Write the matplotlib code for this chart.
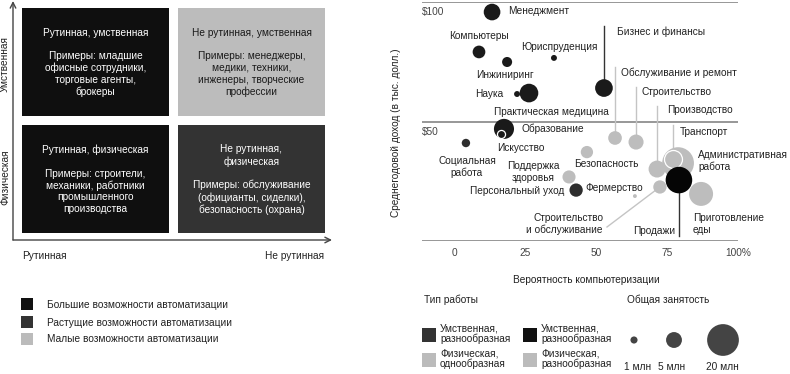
import matplotlib
matplotlib.use("Agg")
import matplotlib.pyplot as plt
from matplotlib.patches import Rectangle
import numpy as np

plt.rcParams['font.family'] = ['Liberation Sans', 'DejaVu Sans']
FS = 7.3

# ---------------- data ----------------
occupations = ["Административная работа", "Транспорт", "Продажи", "Приготовление еды",
               "Образование", "Искусство", "Практическая медицина", "Наука",
               "Бизнес и финансы", "Менеджмент", "Производство", "Строительство",
               "Обслуживание и ремонт", "Строительство и обслуживание", "Персональный уход",
               "Поддержка здоровья", "Компьютеры", "Безопасность", "Инжиниринг",
               "Социальная работа", "Юриспруденция", "Фермерство"]
prob = [78.9, 77.1, 79.2, 87.0, 17.6, 16.5, 26.4, 22.2, 52.8, 13.4, 71.5, 64.1,
        56.7, 72.5, 43.0, 40.5, 8.8, 46.8, 18.7, 4.2, 35.2, 63.7]
income = [32.6, 34.3, 25.5, 19.7, 46.9, 44.8, 61.9, 61.5, 64.0, 95.8, 30.1, 41.4,
          43.1, 22.6, 21.3, 26.8, 79.1, 37.2, 74.9, 41.0, 76.6, 18.8]
employment = [20, 6.4, 14, 11.4, 8.0, 1.3, 6.9, 0.7, 6.2, 5.5, 5.7, 4.5,
              3.7, 3.5, 3.5, 3.4, 3.2, 3.0, 2.0, 1.4, 0.7, 0.3]
job_type = ["phys", "phys", "black", "phys", "cog", "cog", "cog", "cog", "cog", "cog",
            "phys", "phys", "phys", "phys", "dark", "phys", "cog", "phys", "cog",
            "dark", "cog", "phys"]
ringed = ["Транспорт", "Искусство"]

x_ticks = [0, 25, 50, 75, 100]
x_tick_labels = ["0", "25", "50", "75", "100%"]
y_ticks = [50, 100]
y_tick_labels = ["$50", "$100"]
size_legend_values = [1, 5, 20]
size_legend_labels = ["1 млн", "5 млн", "20 млн"]

quadrant_texts = ["Рутинная, умственная\n\nПримеры: младшие\nофисные сотрудники,\nторговые агенты,\nброкеры",
                  "Не рутинная, умственная\n\nПримеры: менеджеры,\nмедики, техники,\nинженеры, творческие\nпрофессии",
                  "Рутинная, физическая\n\nПримеры: строители,\nмеханики, работники\nпромышленного\nпроизводства",
                  "Не рутинная,\nфизическая\n\nПримеры: обслуживание\n(официанты, сиделки),\nбезопасность (охрана)"]
auto_labels = ["Большие возможности автоматизации", "Растущие возможности автоматизации",
               "Малые возможности автоматизации"]

colors = {"cog": "#1a1a1a", "black": "#050505", "dark": "#2e2e2e", "phys": "#bdbdbd"}

# ---------------- figure ----------------
W, H = 790, 374
fig = plt.figure(figsize=(W / 100, H / 100), dpi=100)
bg = fig.add_axes([0, 0, 1, 1])
bg.set_xlim(0, W)
bg.set_ylim(H, 0)
bg.axis('off')

# ---- left diagram ----
box_colors = ["#0f0f0f", "#bcbcbc", "#0f0f0f", "#333333"]
text_colors = ["white", "#1a1a1a", "white", "white"]
boxes = [(22, 8), (178, 8), (22, 125), (178, 125)]
for (bx, by), fc, tc, txt in zip(boxes, box_colors, text_colors, quadrant_texts):
    bg.add_patch(Rectangle((bx, by), 147, 108, facecolor=fc, edgecolor='none'))
    bg.text(bx + 73.5, by + 54.5, txt, ha='center', va='center', color=tc,
            fontsize=FS, linespacing=1.2)

bg.annotate("", xy=(13, 1), xytext=(13, 240),
            arrowprops=dict(arrowstyle='->', color='#444444', lw=1, shrinkA=0, shrinkB=0))
bg.annotate("", xy=(332, 240), xytext=(13, 240),
            arrowprops=dict(arrowstyle='->', color='#444444', lw=1, shrinkA=0, shrinkB=0))
bg.text(5, 64, "Умственная", rotation=90, ha='center', va='center', fontsize=FS, color='#222')
bg.text(5, 177, "Физическая", rotation=90, ha='center', va='center', fontsize=FS, color='#222')
bg.text(22, 256, "Рутинная", ha='left', va='center', fontsize=FS, color='#222')
bg.text(324, 256, "Не рутинная", ha='right', va='center', fontsize=FS, color='#222')

for i, (lab, c) in enumerate(zip(auto_labels, ["#111111", "#333333", "#bbbbbb"])):
    yy = [298, 316, 333][i]
    bg.add_patch(Rectangle((21, yy), 12, 12, facecolor=c, edgecolor='none'))
    bg.text(47, yy + 6.5, lab, ha='left', va='center', fontsize=FS, color='#222')

# ---- scatter ----
PX0, PX100 = 454, 738
ppx = (PX100 - PX0) / 100
YB, YT = 241, 2
ppy = (YB - YT) / 100
xl = -(PX0 - 422) / ppx
ax = fig.add_axes([422 / W, (H - YB) / H, (738 - 422) / W, (YB - YT) / H])
ax.set_xlim(xl, 100)
ax.set_ylim(0, 100)
ax.axis('off')

def d2p(x, y):
    return PX0 + x * ppx, YB - y * ppy

def py2d(p):
    return (YB - p) / ppy

def px2d(p):
    return (p - PX0) / ppx

for yv in [0] + y_ticks:
    ax.axhline(yv, color='#7a7a7a', lw=1.1, zorder=1)
for yv, lab in zip(y_ticks, y_tick_labels):
    ax.text(xl, yv - 4.2, lab, ha='left', va='center', fontsize=FS, color='#444', clip_on=False)
for xv, lab in zip(x_ticks, x_tick_labels):
    ax.text(xv, -5.0, lab, ha='center', va='center', fontsize=FS, color='#444', clip_on=False)

SCALE = (1.44 * 3.55) ** 2
idx = {n: i for i, n in enumerate(occupations)}

# leader lines
LIGHT, DARK = "#c4c4c4", "#333333"
vleaders = [("Бизнес и финансы", 26, DARK), ("Обслуживание и ремонт", 67, LIGHT),
            ("Строительство", 87, LIGHT), ("Производство", 106, LIGHT),
            ("Транспорт", 125, LIGHT), ("Продажи", 236, DARK)]
for name, pend, col in vleaders:
    i = idx[name]
    ax.plot([prob[i], prob[i]], [income[i], py2d(pend)], color=col, lw=1, zorder=2,
            clip_on=False)
i = idx["Строительство и обслуживание"]
ax.plot([prob[i], px2d(607)], [income[i], py2d(227)], color=LIGHT, lw=1, zorder=2, clip_on=False)

for k, name in enumerate(occupations):
    ring = name in ringed
    ax.scatter(prob[k], income[k], s=employment[k] * SCALE, color=colors[job_type[k]],
               edgecolors='white' if ring else 'none', linewidths=0.9 if ring else 0,
               zorder=3 + k, clip_on=False)

# labels (pixel layout)
labels = [("Менеджмент", 508, 11, 'left'), ("Компьютеры", 479, 36, 'center'),
          ("Юриспруденция", 559, 47, 'center'), ("Бизнес и финансы", 617, 32, 'left'),
          ("Инжиниринг", 505, 75, 'center'), ("Наука", 503, 94, 'right'),
          ("Практическая медицина", 551, 112, 'center'),
          ("Обслуживание и ремонт", 621, 73, 'left'), ("Строительство", 641, 92, 'left'),
          ("Производство", 667, 110, 'left'), ("Образование", 522, 129, 'left'),
          ("Транспорт", 680, 132, 'left'), ("Искусство", 497, 148, 'left'),
          ("Социальная\nработа", 467, 167, 'center'), ("Поддержка\nздоровья", 533, 172, 'center'),
          ("Безопасность", 574, 164, 'left'), ("Административная\nработа", 698, 161, 'left'),
          ("Персональный уход", 564, 191, 'right'), ("Фермерство", 585, 188, 'left'),
          ("Строительство\nи обслуживание", 603, 224, 'right'), ("Продажи", 675, 231, 'right'),
          ("Приготовление\nеды", 693, 224, 'left')]
for txt, x, y, ha in labels:
    bg.text(x, y, txt, ha=ha, va='center', fontsize=FS, color='#222', linespacing=1.15)

bg.text(396, 133, "Среднегодовой доход (в тыс. долл.)", rotation=90, ha='center',
        va='center', fontsize=FS, color='#222')
bg.text(586, 280, "Вероятность компьютеризации", ha='center', va='center', fontsize=FS,
        color='#222')

# type legend
bg.text(424, 300, "Тип работы", ha='left', va='center', fontsize=FS, color='#222')
type_leg = [((422, 328), "#333333", "Умственная,\nразнообразная"),
            ((523, 328), "#111111", "Умственная,\nразнообразная"),
            ((422, 353), "#bbbbbb", "Физическая,\nоднообразная"),
            ((523, 353), "#bbbbbb", "Физическая,\nразнообразная")]
for (sx, sy), c, lab in type_leg:
    bg.add_patch(Rectangle((sx, sy), 14, 14, facecolor=c, edgecolor='none'))
    bg.text(sx + 18, sy + 6, lab, ha='left', va='center', fontsize=FS, color='#222',
            linespacing=1.05)

# size legend
bg.text(627, 300, "Общая занятость", ha='left', va='center', fontsize=FS, color='#222')
for v, lab, cx, lx in zip(size_legend_values, size_legend_labels, [634, 674, 723], [638, 672, 722]):
    bg.scatter(cx, 340, s=v * SCALE, color='#444444', edgecolors='none')
    bg.text(lx, 367, lab, ha='center', va='center', fontsize=FS, color='#222')

fig.savefig("out.png", dpi=100)
